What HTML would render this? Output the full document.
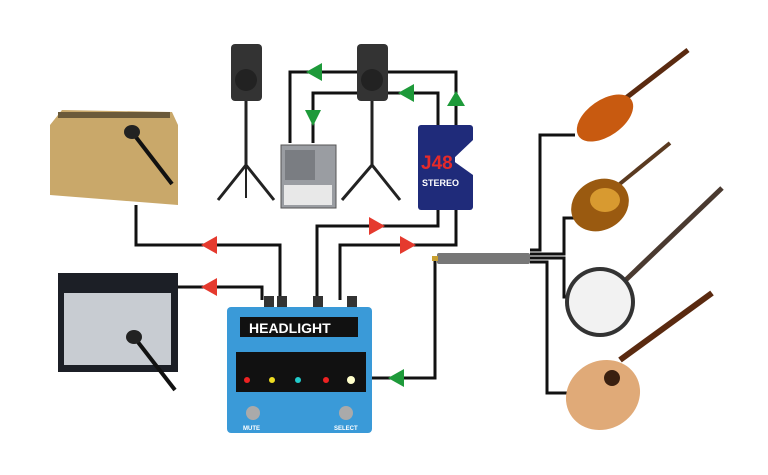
<!DOCTYPE html>
<html><head><meta charset="utf-8"><style>
html,body{margin:0;padding:0;background:#fff;width:768px;height:475px;overflow:hidden}
svg{display:block}
text{font-family:"Liberation Sans",sans-serif;font-weight:bold}
</style></head><body>
<svg width="768" height="475" viewBox="0 0 768 475" xmlns="http://www.w3.org/2000/svg">
<g fill="none" stroke="#111" stroke-width="3">
<polyline points="290,143 290,72 456,72 456,125"/>
<polyline points="313,143 313,93 438,93 438,125"/>
<polyline points="438,210 438,226 317,226 317,300"/>
<polyline points="456,210 456,245 340,245 340,300"/>
<polyline points="136,205 136,245 280,245 280,300"/>
<polyline points="178,287 262,287 262,300"/>
<polyline points="372,378 435,378 435,258"/>
<polyline points="530,250 540,250 540,135 575,135"/>
<polyline points="530,254 564,254 564,218 578,218"/>
<polyline points="530,258 564,258 564,297 572,297"/>
<polyline points="530,262 547,262 547,393 572,393"/>
</g>
<g fill="#1e9a3a">
<polygon points="306,72 322,63 322,81"/>
<polygon points="305,110 321,110 313,126"/>
<polygon points="398,93 414,84 414,102"/>
<polygon points="447,106 465,106 456,91"/>
<polygon points="388,378 404,369 404,387"/>
</g>
<g fill="#e53a2e">
<polygon points="385,226 369,217 369,235"/>
<polygon points="416,245 400,236 400,254"/>
<polygon points="201,245 217,236 217,254"/>
<polygon points="201,287 217,278 217,296"/>
</g>
<g>
<line x1="246" y1="100" x2="246" y2="165" stroke="#222" stroke-width="3"/>
<polyline points="218,200 246,165 274,200" fill="none" stroke="#222" stroke-width="3"/>
<line x1="246" y1="165" x2="246" y2="198" stroke="#222" stroke-width="2"/>
<rect x="231" y="44" width="31" height="57" rx="4" fill="#333"/>
<circle cx="246" cy="80" r="11" fill="#222"/>
<line x1="372" y1="100" x2="372" y2="165" stroke="#222" stroke-width="3"/>
<polyline points="342,200 372,165 400,200" fill="none" stroke="#222" stroke-width="3"/>
<rect x="357" y="44" width="31" height="57" rx="4" fill="#333"/>
<circle cx="372" cy="80" r="11" fill="#222"/>
</g>
<rect x="281" y="145" width="55" height="63" fill="#9a9da2" stroke="#555"/>
<rect x="284" y="185" width="48" height="20" fill="#e8e8e8"/>
<rect x="285" y="150" width="30" height="30" fill="#7a7d82"/>
<rect x="418" y="125" width="55" height="85" rx="3" fill="#1f2b7a"/>
<polygon points="452,160 473,140 473,175" fill="#fff"/>
<rect x="421" y="152" width="34" height="20" fill="#1f2b7a"/>
<text x="421" y="169" font-size="19" fill="#e52a2a">J48</text>
<text x="422" y="186" font-size="9" fill="#fff">STEREO</text>
<polygon points="50,125 62,110 172,112 178,125 178,205 50,195" fill="#c9a86a"/>
<rect x="58" y="112" width="112" height="6" fill="#6b5a3a"/>
<line x1="132" y1="132" x2="172" y2="184" stroke="#111" stroke-width="4"/>
<ellipse cx="132" cy="132" rx="8" ry="7" fill="#222"/>
<rect x="58" y="273" width="120" height="99" fill="#1c1f26"/>
<rect x="64" y="293" width="107" height="72" fill="#c8ccd2"/>
<line x1="134" y1="337" x2="175" y2="390" stroke="#111" stroke-width="4"/>
<ellipse cx="134" cy="337" rx="8" ry="7" fill="#222"/>
<rect x="264" y="296" width="10" height="12" fill="#333"/><rect x="277" y="296" width="10" height="12" fill="#333"/>
<rect x="313" y="296" width="10" height="12" fill="#333"/><rect x="347" y="296" width="10" height="12" fill="#333"/>
<rect x="227" y="307" width="145" height="126" rx="4" fill="#3a9ad8"/>
<rect x="240" y="317" width="118" height="20" fill="#111"/>
<text x="249" y="333" font-size="14" fill="#fff">HEADLIGHT</text>
<rect x="236" y="352" width="130" height="40" fill="#111"/>
<circle cx="247" cy="380" r="3" fill="#e22"/><circle cx="272" cy="380" r="3" fill="#ed2"/>
<circle cx="298" cy="380" r="3" fill="#2cc"/><circle cx="326" cy="380" r="3" fill="#e22"/><circle cx="351" cy="380" r="4" fill="#ffc"/>
<circle cx="253" cy="413" r="7" fill="#aaa"/><circle cx="346" cy="413" r="7" fill="#aaa"/>
<text x="243" y="430" font-size="6" fill="#fff">MUTE</text><text x="334" y="430" font-size="6" fill="#fff">SELECT</text>
<rect x="437" y="253" width="93" height="11" rx="2" fill="#777"/>
<rect x="432" y="256" width="6" height="5" fill="#c9a030"/>
<line x1="600" y1="118" x2="688" y2="50" stroke="#5a2a10" stroke-width="5"/>
<ellipse cx="605" cy="118" rx="32" ry="18" transform="rotate(-35 605 118)" fill="#c85a10"/>
<line x1="600" y1="200" x2="670" y2="143" stroke="#5a3a20" stroke-width="4"/>
<ellipse cx="600" cy="205" rx="30" ry="25" transform="rotate(-30 600 205)" fill="#9a5a10"/>
<ellipse cx="605" cy="200" rx="15" ry="12" fill="#d89a30"/>
<line x1="610" y1="295" x2="722" y2="188" stroke="#4a3a30" stroke-width="5"/>
<circle cx="600" cy="302" r="35" fill="#333"/><circle cx="600" cy="302" r="31" fill="#f2f2f2"/>
<line x1="620" y1="360" x2="712" y2="293" stroke="#5a2a10" stroke-width="6"/>
<ellipse cx="603" cy="395" rx="38" ry="34" transform="rotate(-30 603 395)" fill="#e0aa78"/>
<circle cx="612" cy="378" r="8" fill="#3a2010"/>
</svg>
</body></html>
